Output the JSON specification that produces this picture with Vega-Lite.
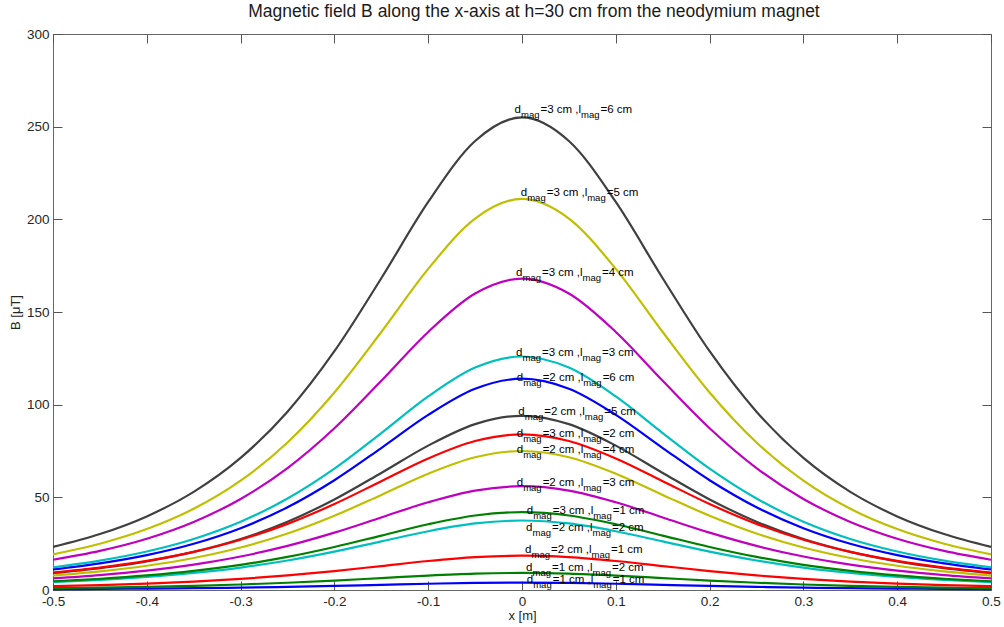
{
  "$schema": "https://vega.github.io/schema/vega-lite/v6.json",
  "width": 938,
  "height": 556,
  "autosize": {"type": "none"},
  "padding": {"left": 53, "top": 34, "right": 13, "bottom": 37},
  "background": "white",
  "title": {"text": "Magnetic field B along the x-axis at h=30 cm from the neodymium magnet", "fontSize": 17.5, "font": "Liberation Sans", "fontWeight": "normal", "color": "#1a1a1a", "offset": 7, "anchor": "middle", "dx": 12},
  "datasets": {
    "curves": [
      {"x": -0.5, "k01": 0.45, "k02": 1.03, "k03": 2.08, "k04": 4.21, "k05": 6.28, "k06": 7.78, "k07": 9.14, "k08": 11.08, "k09": 4.71, "k10": 9.43, "k11": 12.25, "k12": 16.33, "k13": 19.25, "k14": 23.26},
      {"x": -0.45, "k01": 0.58, "k02": 1.33, "k03": 2.66, "k04": 5.40, "k05": 8.07, "k06": 10.03, "k07": 11.82, "k08": 14.33, "k09": 6.05, "k10": 12.10, "k11": 15.84, "k12": 21.12, "k13": 24.97, "k14": 30.18},
      {"x": -0.4, "k01": 0.75, "k02": 1.72, "k03": 3.46, "k04": 7.01, "k05": 10.47, "k06": 13.09, "k07": 15.49, "k08": 18.79, "k09": 7.85, "k10": 15.71, "k11": 20.77, "k12": 27.69, "k13": 32.87, "k14": 39.72},
      {"x": -0.35, "k01": 0.98, "k02": 2.25, "k03": 4.53, "k04": 9.19, "k05": 13.72, "k06": 17.27, "k07": 20.55, "k08": 24.92, "k09": 10.29, "k10": 20.58, "k11": 27.55, "k12": 36.73, "k13": 43.82, "k14": 52.96},
      {"x": -0.3, "k01": 1.29, "k02": 2.97, "k03": 5.97, "k04": 12.11, "k05": 18.08, "k06": 22.94, "k07": 27.48, "k08": 33.33, "k09": 13.56, "k10": 27.12, "k11": 36.84, "k12": 49.12, "k13": 58.98, "k14": 71.28},
      {"x": -0.25, "k01": 1.70, "k02": 3.91, "k03": 7.86, "k04": 15.93, "k05": 23.79, "k06": 30.48, "k07": 36.81, "k08": 44.65, "k09": 17.84, "k10": 35.68, "k11": 49.35, "k12": 65.79, "k13": 79.61, "k14": 96.22},
      {"x": -0.2, "k01": 2.21, "k02": 5.08, "k03": 10.22, "k04": 20.71, "k05": 30.93, "k06": 40.07, "k07": 48.85, "k08": 59.24, "k09": 23.20, "k10": 46.39, "k11": 65.47, "k12": 87.30, "k13": 106.60, "k14": 128.83},
      {"x": -0.15, "k01": 2.80, "k02": 6.43, "k03": 12.93, "k04": 26.21, "k05": 39.14, "k06": 51.32, "k07": 63.16, "k08": 76.60, "k09": 29.36, "k10": 58.72, "k11": 84.66, "k12": 112.89, "k13": 139.20, "k14": 168.22},
      {"x": -0.1, "k01": 3.38, "k02": 7.78, "k03": 15.64, "k04": 31.70, "k05": 47.33, "k06": 62.72, "k07": 77.91, "k08": 94.48, "k09": 35.50, "k10": 71.00, "k11": 104.43, "k12": 139.24, "k13": 173.27, "k14": 209.40},
      {"x": -0.05, "k01": 3.83, "k02": 8.81, "k03": 17.71, "k04": 35.90, "k05": 53.61, "k06": 71.60, "k07": 89.52, "k08": 108.57, "k09": 40.21, "k10": 80.42, "k11": 120.0, "k12": 159.99, "k13": 200.44, "k14": 242.24},
      {"x": 0, "k01": 4, "k02": 9.2, "k03": 18.5, "k04": 37.5, "k05": 56, "k06": 75, "k07": 94, "k08": 114, "k09": 42, "k10": 84, "k11": 126, "k12": 168, "k13": 211, "k14": 255},
      {"x": 0.05, "k01": 3.83, "k02": 8.81, "k03": 17.71, "k04": 35.90, "k05": 53.61, "k06": 71.60, "k07": 89.52, "k08": 108.57, "k09": 40.21, "k10": 80.42, "k11": 120.0, "k12": 159.99, "k13": 200.44, "k14": 242.24},
      {"x": 0.1, "k01": 3.38, "k02": 7.78, "k03": 15.64, "k04": 31.70, "k05": 47.33, "k06": 62.72, "k07": 77.91, "k08": 94.48, "k09": 35.50, "k10": 71.00, "k11": 104.43, "k12": 139.24, "k13": 173.27, "k14": 209.40},
      {"x": 0.15, "k01": 2.80, "k02": 6.43, "k03": 12.93, "k04": 26.21, "k05": 39.14, "k06": 51.32, "k07": 63.16, "k08": 76.60, "k09": 29.36, "k10": 58.72, "k11": 84.66, "k12": 112.89, "k13": 139.20, "k14": 168.22},
      {"x": 0.2, "k01": 2.21, "k02": 5.08, "k03": 10.22, "k04": 20.71, "k05": 30.93, "k06": 40.07, "k07": 48.85, "k08": 59.24, "k09": 23.20, "k10": 46.39, "k11": 65.47, "k12": 87.30, "k13": 106.60, "k14": 128.83},
      {"x": 0.25, "k01": 1.70, "k02": 3.91, "k03": 7.86, "k04": 15.93, "k05": 23.79, "k06": 30.48, "k07": 36.81, "k08": 44.65, "k09": 17.84, "k10": 35.68, "k11": 49.35, "k12": 65.79, "k13": 79.61, "k14": 96.22},
      {"x": 0.3, "k01": 1.29, "k02": 2.97, "k03": 5.97, "k04": 12.11, "k05": 18.08, "k06": 22.94, "k07": 27.48, "k08": 33.33, "k09": 13.56, "k10": 27.12, "k11": 36.84, "k12": 49.12, "k13": 58.98, "k14": 71.28},
      {"x": 0.35, "k01": 0.98, "k02": 2.25, "k03": 4.53, "k04": 9.19, "k05": 13.72, "k06": 17.27, "k07": 20.55, "k08": 24.92, "k09": 10.29, "k10": 20.58, "k11": 27.55, "k12": 36.73, "k13": 43.82, "k14": 52.96},
      {"x": 0.4, "k01": 0.75, "k02": 1.72, "k03": 3.46, "k04": 7.01, "k05": 10.47, "k06": 13.09, "k07": 15.49, "k08": 18.79, "k09": 7.85, "k10": 15.71, "k11": 20.77, "k12": 27.69, "k13": 32.87, "k14": 39.72},
      {"x": 0.45, "k01": 0.58, "k02": 1.33, "k03": 2.66, "k04": 5.40, "k05": 8.07, "k06": 10.03, "k07": 11.82, "k08": 14.33, "k09": 6.05, "k10": 12.10, "k11": 15.84, "k12": 21.12, "k13": 24.97, "k14": 30.18},
      {"x": 0.5, "k01": 0.45, "k02": 1.03, "k03": 2.08, "k04": 4.21, "k05": 6.28, "k06": 7.78, "k07": 9.14, "k08": 11.08, "k09": 4.71, "k10": 9.43, "k11": 12.25, "k12": 16.33, "k13": 19.25, "k14": 23.26}
    ],
    "labels": [
      {"key": "k14", "t1": "=3 cm ,l", "t2": "=6 cm", "lx": -0.008, "ly": 257.3},
      {"key": "k13", "t1": "=3 cm ,l", "t2": "=5 cm", "lx": -0.0014, "ly": 212.4},
      {"key": "k12", "t1": "=3 cm ,l", "t2": "=4 cm", "lx": -0.0064, "ly": 169.2},
      {"key": "k11", "t1": "=3 cm ,l", "t2": "=3 cm", "lx": -0.0064, "ly": 126.4},
      {"key": "k08", "t1": "=2 cm ,l", "t2": "=6 cm", "lx": -0.0057, "ly": 112.9},
      {"key": "k07", "t1": "=2 cm ,l", "t2": "=5 cm", "lx": -0.004, "ly": 94.6},
      {"key": "k10", "t1": "=3 cm ,l", "t2": "=2 cm", "lx": -0.0057, "ly": 82.6},
      {"key": "k06", "t1": "=2 cm ,l", "t2": "=4 cm", "lx": -0.0057, "ly": 73.9},
      {"key": "k05", "t1": "=2 cm ,l", "t2": "=3 cm", "lx": -0.0057, "ly": 55.9},
      {"key": "k09", "t1": "=3 cm ,l", "t2": "=1 cm", "lx": 0.005, "ly": 41.0},
      {"key": "k04", "t1": "=2 cm ,l", "t2": "=2 cm", "lx": 0.0043, "ly": 31.7},
      {"key": "k03", "t1": "=2 cm ,l", "t2": "=1 cm", "lx": 0.0032, "ly": 20.0},
      {"key": "k02", "t1": "=1 cm ,l", "t2": "=2 cm", "lx": 0.0043, "ly": 10.1},
      {"key": "k01", "t1": "=1 cm ,l", "t2": "=1 cm", "lx": 0.005, "ly": 3.8}
    ]
  },
  "config": {
    "view": {"stroke": "#666666", "strokeWidth": 1},
    "axis": {"grid": false, "domain": false, "tickSize": -9, "tickColor": "#555555", "labelFont": "Liberation Sans", "labelFontSize": 13.5, "labelColor": "#262626", "titleFont": "Liberation Sans", "titleFontSize": 13, "titleFontWeight": "normal", "titleColor": "#262626"}
  },
  "layer": [
    {
      "data": {"name": "curves"},
      "transform": [{"fold": ["k01", "k02", "k03", "k04", "k05", "k06", "k07", "k08", "k09", "k10", "k11", "k12", "k13", "k14"], "as": ["key", "B"]}],
      "mark": {"type": "line", "interpolate": "monotone", "strokeWidth": 2.2},
      "encoding": {
        "x": {"field": "x", "type": "quantitative", "scale": {"domain": [-0.5, 0.5], "nice": false, "zero": false},
          "axis": {"orient": "bottom", "values": [-0.5, -0.4, -0.3, -0.2, -0.1, 0, 0.1, 0.2, 0.3, 0.4, 0.5], "labelPadding": 13.5, "labelBaseline": "top", "labelFlush": false, "title": "x [m]", "titlePadding": 1.5,
            "labelExpr": "datum.value == 0 ? '0' : (datum.value < 0 ? '-' + format(-datum.value, '.1f') : format(datum.value, '.1f'))"}},
        "y": {"field": "B", "type": "quantitative", "scale": {"domain": [0, 300], "nice": false},
          "axis": {"orient": "left", "values": [0, 50, 100, 150, 200, 250, 300], "labelPadding": 13, "labelFlush": false, "format": "d", "title": "B [μT]", "titlePadding": 4}},
        "color": {"field": "key", "type": "nominal", "legend": null,
          "scale": {"domain": ["k01", "k02", "k03", "k04", "k05", "k06", "k07", "k08", "k09", "k10", "k11", "k12", "k13", "k14"],
            "range": ["#0000ff", "#008000", "#ff0000", "#00bfbf", "#bf00bf", "#bfbf00", "#404040", "#0000ff", "#008000", "#ff0000", "#00bfbf", "#bf00bf", "#bfbf00", "#404040"]}}
      }
    },
    {
      "data": {"name": "labels"},
      "mark": {"type": "text", "align": "left", "baseline": "alphabetic", "font": "Liberation Sans", "fontSize": 11.5, "color": "#000000", "dx": 0},
      "encoding": {
        "x": {"field": "lx", "type": "quantitative", "scale": {"domain": [-0.5, 0.5], "nice": false, "zero": false}, "axis": null},
        "y": {"field": "ly", "type": "quantitative", "scale": {"domain": [0, 300], "nice": false}, "axis": null},
        "text": {"value": "d"}
      }
    },
    {
      "data": {"name": "labels"},
      "mark": {"type": "text", "align": "left", "baseline": "alphabetic", "font": "Liberation Sans", "fontSize": 9.5, "color": "#000000", "dx": 6.5, "dy": 5},
      "encoding": {
        "x": {"field": "lx", "type": "quantitative", "axis": null},
        "y": {"field": "ly", "type": "quantitative", "axis": null},
        "text": {"value": "mag"}
      }
    },
    {
      "data": {"name": "labels"},
      "mark": {"type": "text", "align": "left", "baseline": "alphabetic", "font": "Liberation Sans", "fontSize": 11.5, "color": "#000000", "dx": 26},
      "encoding": {
        "x": {"field": "lx", "type": "quantitative", "axis": null},
        "y": {"field": "ly", "type": "quantitative", "axis": null},
        "text": {"field": "t1"}
      }
    },
    {
      "data": {"name": "labels"},
      "mark": {"type": "text", "align": "left", "baseline": "alphabetic", "font": "Liberation Sans", "fontSize": 9.5, "color": "#000000", "dx": 66.5, "dy": 5},
      "encoding": {
        "x": {"field": "lx", "type": "quantitative", "axis": null},
        "y": {"field": "ly", "type": "quantitative", "axis": null},
        "text": {"value": "mag"}
      }
    },
    {
      "data": {"name": "labels"},
      "mark": {"type": "text", "align": "left", "baseline": "alphabetic", "font": "Liberation Sans", "fontSize": 11.5, "color": "#000000", "dx": 86},
      "encoding": {
        "x": {"field": "lx", "type": "quantitative", "axis": null},
        "y": {"field": "ly", "type": "quantitative", "axis": null},
        "text": {"field": "t2"}
      }
    },
    {
      "data": {"name": "labels"},
      "mark": {"type": "point", "opacity": 0},
      "encoding": {
        "x": {"field": "lx", "type": "quantitative", "axis": {"orient": "top", "labels": false, "title": null, "values": [-0.5, -0.4, -0.3, -0.2, -0.1, 0, 0.1, 0.2, 0.3, 0.4, 0.5]}},
        "y": {"field": "ly", "type": "quantitative", "axis": {"orient": "right", "labels": false, "title": null, "values": [0, 50, 100, 150, 200, 250, 300]}}
      }
    }
  ],
  "resolve": {"axis": {"x": "independent", "y": "independent"}}
}
